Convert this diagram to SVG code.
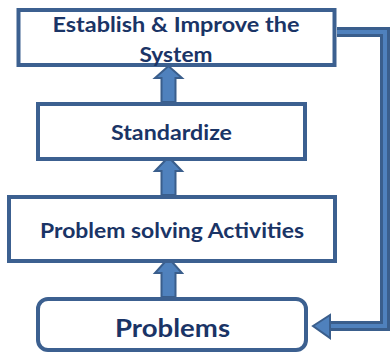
<svg xmlns="http://www.w3.org/2000/svg" width="390" height="354" viewBox="0 0 390 354">
<style>
.box{fill:#ffffff;stroke:#3c6090;stroke-width:4}
.t{font-family:Lato,"Liberation Sans",sans-serif;font-weight:bold;fill:#1a3466;text-anchor:middle}
.arr{fill:#4f81bd;stroke:#3a5e8c;stroke-width:2;stroke-linejoin:miter}
.lineo{fill:none;stroke:#3a5e8c;stroke-width:10;stroke-linejoin:miter}
.linei{fill:none;stroke:#4f81bd;stroke-width:4;stroke-linejoin:miter}
</style>
<rect width="390" height="354" fill="#ffffff"/>
<g id="connectors">
<path class="arr" d="M161.5,102 L161.5,78 L155,78 L168.5,66 L182,78 L175.5,78 L175.5,102 Z"/>
<path class="arr" d="M161.5,195 L161.5,171 L155,171 L168.5,157 L182,171 L175.5,171 L175.5,195 Z"/>
<path class="arr" d="M161.5,297 L161.5,273 L155,273 L168.5,258 L182,273 L175.5,273 L175.5,297 Z"/>
<path class="lineo" d="M337,32 L385,32 L385,326 L330,326"/>
<path class="linei" d="M337,32 L385,32 L385,326 L330,326"/>
<path class="arr" d="M313,326 L330,315 L330,338 Z"/>
</g>
<g id="establish">
<rect class="box" x="18.5" y="10" width="316" height="55"/>
<text class="t" x="176" y="32" font-size="20" textLength="247" lengthAdjust="spacingAndGlyphs">Establish &amp; Improve the</text>
<text class="t" x="176" y="62" font-size="20" textLength="73" lengthAdjust="spacingAndGlyphs">System</text>
</g>
<g id="standardize">
<rect class="box" x="38" y="104" width="267" height="55"/>
<text class="t" x="171.5" y="140" font-size="20" textLength="121" lengthAdjust="spacingAndGlyphs">Standardize</text>
</g>
<g id="problem-solving">
<rect class="box" x="9" y="197" width="326" height="64"/>
<text class="t" x="172" y="238" font-size="20.5" textLength="264" lengthAdjust="spacingAndGlyphs">Problem solving Activities</text>
</g>
<g id="problems">
<rect class="box" x="38" y="299" width="268" height="51" rx="10"/>
<text class="t" x="172.5" y="337" font-size="25" textLength="115" lengthAdjust="spacingAndGlyphs">Problems</text>
</g>
</svg>
